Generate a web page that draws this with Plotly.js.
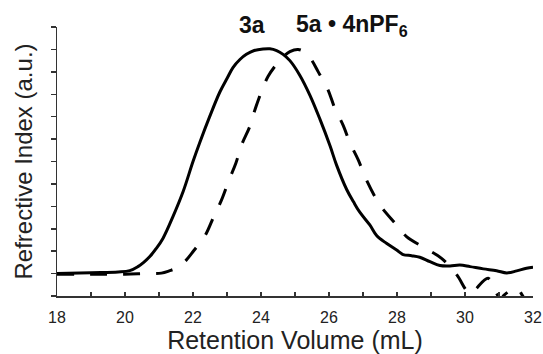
<!DOCTYPE html>
<html>
<head>
<meta charset="utf-8">
<script src="https://cdn.plot.ly/plotly-3.0.1.min.js"></script>
<style>html,body{margin:0;padding:0;background:#fff;}#chart{width:543px;height:354px;}</style>
</head>
<body>
<div id="chart"></div>
<script>
// Series 3a (solid)
const x3a = [18, 19, 19.8, 20.14, 20.38, 20.55, 20.73, 20.92, 21.12, 21.41, 21.71, 22.0, 22.2, 22.49, 22.79, 23.0, 23.18, 23.38, 23.57, 23.8, 24.06, 24.26, 24.46, 24.65, 24.85, 25.14, 25.44, 25.73, 26.03, 26.22, 26.52, 26.72, 26.9, 27.2, 27.4, 27.69, 27.99, 28.18, 28.43, 28.67, 28.97, 29.26, 29.56, 29.85, 30.15, 30.54, 30.93, 31.23, 31.52, 31.81, 32.0];
const y3a = [0, 0.04, 0.07, 0.13, 0.31, 0.5, 0.76, 1.12, 1.58, 2.54, 3.66, 5.0, 5.85, 7.0, 8.1, 8.7, 9.2, 9.55, 9.78, 9.95, 10.02, 10.03, 9.95, 9.78, 9.5, 8.85, 7.95, 6.9, 5.7, 4.85, 3.75, 3.2, 2.75, 2.17, 1.7, 1.35, 1.05, 0.85, 0.8, 0.73, 0.53, 0.36, 0.34, 0.38, 0.31, 0.21, 0.13, 0.03, 0.12, 0.24, 0.28];

// Series 5a • 4nPF6 (dashed)
const x5a = [18, 19, 20, 20.6, 21.07, 21.3, 21.56, 21.8, 22.02, 22.35, 22.61, 22.84, 23.06, 23.26, 23.43, 23.67, 23.82, 24.06, 24.21, 24.41, 24.62, 24.85, 25.09, 25.34, 25.5, 25.68, 25.97, 26.17, 26.42, 26.61, 26.86, 27.1, 27.5, 27.94, 28.28, 28.87, 29.31, 29.76, 30.03, 30.15, 30.29, 30.68, 30.9, 31.05, 31.15, 31.52, 31.75, 32.0];
const y5a = [-0.03, -0.03, -0.03, 0.0, 0.02, 0.12, 0.28, 0.6, 1.02, 1.68, 2.54, 3.29, 4.18, 4.92, 5.74, 6.56, 7.3, 8.3, 8.8, 9.25, 9.62, 9.9, 10.0, 9.83, 9.5, 9.01, 8.2, 7.38, 6.6, 5.85, 5.07, 4.18, 3.06, 2.25, 1.65, 1.1, 0.68, -0.06, -0.73, -0.9, -0.73, -0.21, -0.8, -1.15, -0.96, -0.65, -1.1, -1.3];

// Labels
const seriesLabels = ['3a', '5a • 4nPF<sub>6</sub>'];
const labelX = [0.41, 0.497];
const labelY = [1.006, 1.006];
const xTitle = 'Retention Volume (mL)';
const yTitle = 'Refrective Index (a.u.)';

const FONT = 'Arial, "Liberation Sans", Helvetica, sans-serif';
const AX = '#333';

const traces = [
  {x: x3a, y: y3a, mode: 'lines', line: {color: '#000', width: 3, shape: 'spline', smoothing: 1}, name: seriesLabels[0]},
  {x: x5a, y: y5a, mode: 'lines', line: {color: '#000', width: 3, dash: '17px,16px', shape: 'spline', smoothing: 1}, name: seriesLabels[1]}
];

const layout = {
  width: 543, height: 354,
  margin: {l: 57, r: 10, t: 27, b: 58},
  paper_bgcolor: '#fff', plot_bgcolor: '#fff',
  showlegend: false,
  font: {family: FONT, color: '#000'},
  xaxis: {
    range: [18, 32], tick0: 18, dtick: 2,
    ticks: 'inside', ticklen: 4, tickwidth: 1.5, tickcolor: AX,
    minor: {dtick: 1, ticks: 'inside', ticklen: 4, tickwidth: 1.5, tickcolor: AX, showgrid: false},
    showline: true, linecolor: AX, linewidth: 1.5,
    showgrid: false, zeroline: false,
    tickfont: {size: 16, family: FONT, color: '#222'},
    ticklabelstandoff: 6,
    title: {text: xTitle, font: {size: 25, family: FONT, color: '#222'}, standoff: 6},
    automargin: false, fixedrange: true
  },
  yaxis: {
    range: [-1, 11], tick0: -1, dtick: 1,
    ticks: 'outside', ticklen: 5, tickwidth: 1.5, tickcolor: AX,
    showticklabels: false,
    showline: true, linecolor: AX, linewidth: 1.5,
    showgrid: false, zeroline: false,
    title: {text: yTitle, font: {size: 24, family: FONT, color: '#222'}, standoff: 11},
    automargin: false, fixedrange: true
  },
  annotations: seriesLabels.map((t, i) => ({
    text: '<b>' + t + '</b>', x: labelX[i], y: labelY[i], xref: 'paper', yref: 'paper',
    xanchor: i === 0 ? 'center' : 'left', yanchor: 'middle', showarrow: false,
    font: {size: 23, family: FONT, color: '#111'}
  }))
};

Plotly.newPlot('chart', traces, layout, {staticPlot: true, displayModeBar: false});
</script>
</body>
</html>
